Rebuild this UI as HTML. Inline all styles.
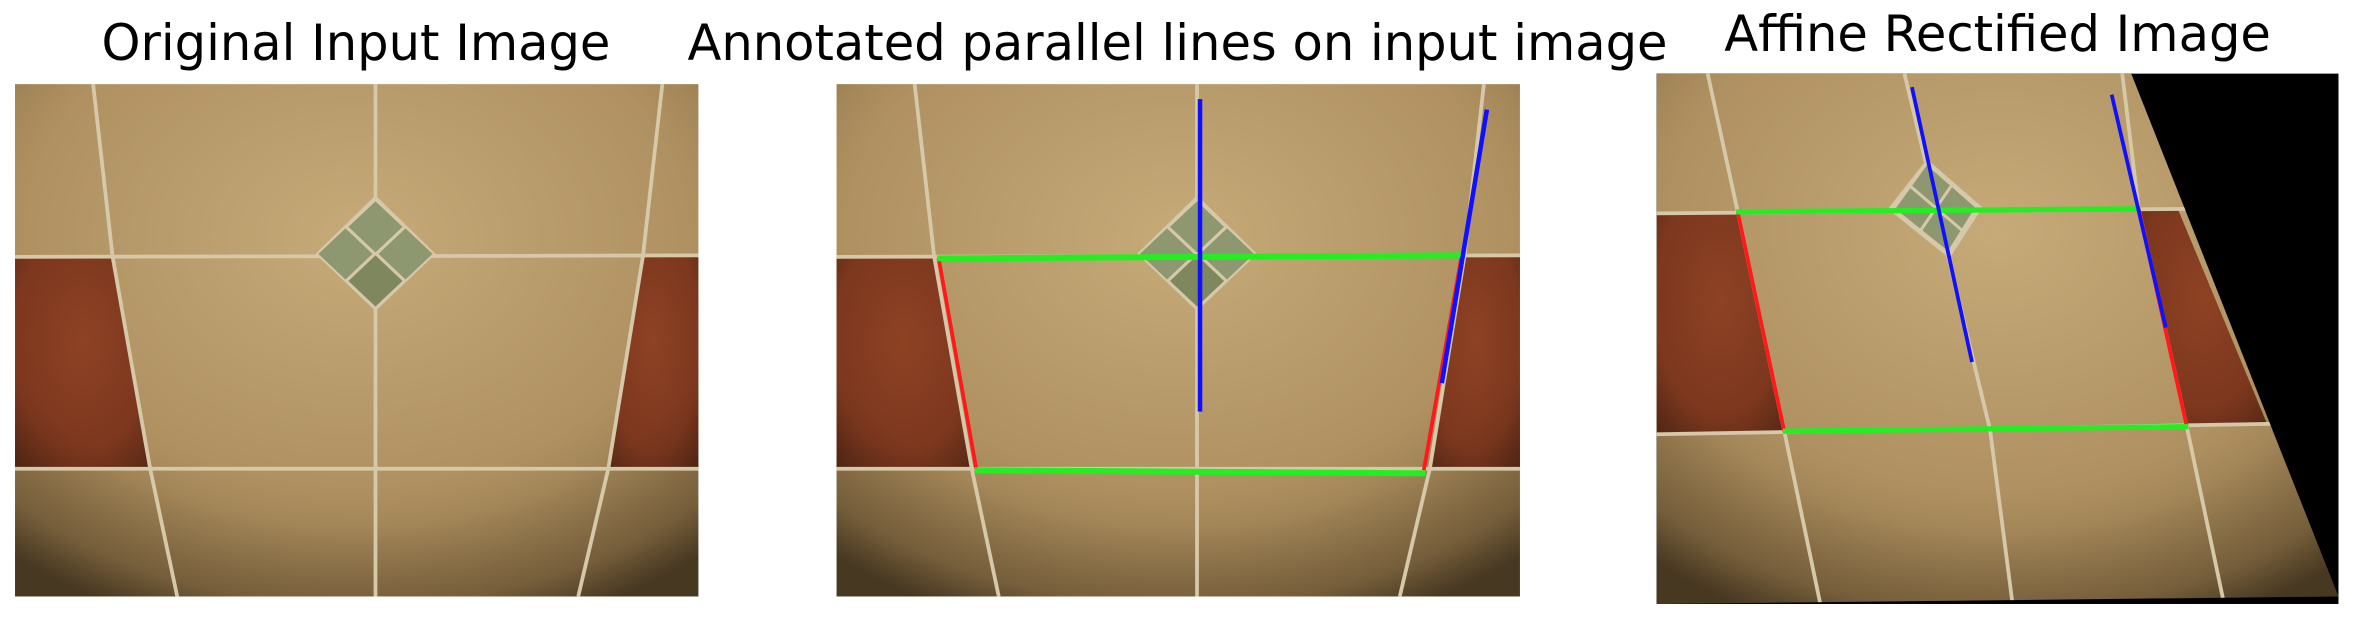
<!DOCTYPE html>
<html><head><meta charset="utf-8"><style>
html,body{margin:0;padding:0;background:#fff;}
svg{display:block;}
text{font-family:"DejaVu Sans","Liberation Sans",sans-serif;font-size:33px;fill:#000;}
</style></head><body>
<svg width="2355" height="619" viewBox="0 0 1568 412" preserveAspectRatio="none">
<defs>
  <radialGradient id="vig" cx="0.5" cy="0.3" r="0.8">
    <stop offset="0" stop-color="#c6aa78"/>
    <stop offset="0.6" stop-color="#b09262"/>
    <stop offset="0.9" stop-color="#8c7046"/>
    <stop offset="1" stop-color="#5e4a2c"/>
  </radialGradient>
  <radialGradient id="vigR" cx="0.5" cy="0.4" r="0.75">
    <stop offset="0" stop-color="#8e4224"/>
    <stop offset="0.7" stop-color="#7c371e"/>
    <stop offset="1" stop-color="#5a2a16"/>
  </radialGradient>
  <radialGradient id="shade" cx="0.5" cy="0.3" r="0.8">
    <stop offset="0.7" stop-color="#000" stop-opacity="0"/>
    <stop offset="1" stop-color="#000" stop-opacity="0.25"/>
  </radialGradient>
  <g id="scene">
    <rect x="0" y="0" width="455" height="341" fill="url(#vig)"/>
    <polygon points="0,115 65,115 90,256 0,256" fill="url(#vigR)"/>
    <polygon points="418,115 455,115 455,256 395,256" fill="url(#vigR)"/>
    <rect x="0" y="0" width="455" height="341" fill="url(#shade)"/>
    <g stroke="#d6c9aa" stroke-width="2.5" fill="none">
      <polyline points="0,115 455,114"/>
      <polyline points="0,256 455,256"/>
      <polyline points="52,0 65,115 90,256 108,341"/>
      <line x1="240" y1="0" x2="240" y2="341"/>
      <polyline points="431,0 418,115 395,256 375,341"/>
    </g>
    <polygon points="240,74 280,113 240,151 200,113" fill="#d6c9aa"/>
    <g fill="#8e9870">
      <polygon points="240,78 258,95 240,112 222,95"/>
      <polygon points="220,96 238,113 220,130 202,113"/>
      <polygon points="260,96 278,113 260,130 242,113"/>
      <polygon points="240,114 258,131 240,148 222,131" fill="#7f875e"/>
    </g>
  </g>
  <clipPath id="c3"><polygon points="1103,49 1419,49 1557,397 1103,402"/></clipPath>
</defs>

<text x="237" y="40" text-anchor="middle">Original Input Image</text>
<text x="784" y="40" text-anchor="middle">Annotated parallel lines on input image</text>
<text x="1330" y="34" text-anchor="middle">Affine Rectified Image</text>

<g transform="translate(10,56)"><use href="#scene"/></g>

<g transform="translate(557,56)"><use href="#scene"/></g>
<g>
  <line x1="625" y1="172" x2="650" y2="312" stroke="#ff1a1a" stroke-width="2.5"/>
  <line x1="973" y1="171" x2="948" y2="313" stroke="#ff1a1a" stroke-width="2.5"/>
  <line x1="624" y1="172" x2="974" y2="170" stroke="#22ee22" stroke-width="4"/>
  <line x1="649" y1="313" x2="949" y2="315" stroke="#22ee22" stroke-width="4"/>
  <line x1="799" y1="66" x2="799" y2="274" stroke="#1010ff" stroke-width="3"/>
  <line x1="990" y1="73" x2="960" y2="255" stroke="#1010ff" stroke-width="3"/>
</g>

<g>
  <rect x="1103" y="49" width="454" height="353" fill="#000"/>
  <g clip-path="url(#c3)">
    <rect x="1103" y="49" width="454" height="353" fill="url(#vig)"/>
    <polygon points="1103,142 1157,141 1188,287 1103,288" fill="url(#vigR)"/>
    <polygon points="1424,139 1450,139 1509,281 1456,284" fill="url(#vigR)"/>
    <rect x="1103" y="49" width="454" height="353" fill="url(#shade)"/>
    <g stroke="#d6c9aa" stroke-width="2.5" fill="none">
      <line x1="1103" y1="142" x2="1460" y2="139"/>
      <line x1="1103" y1="289" x2="1520" y2="282"/>
      <polyline points="1137,49 1157,141 1188,287 1212,402"/>
      <polyline points="1268,49 1290,141 1325,286 1340,402"/>
      <polyline points="1413,49 1424,139 1456,284 1480,398"/>
    </g>
    <polygon points="1283,106 1320,138 1298,172 1257,139" fill="#d6c9aa"/>
    <polygon points="1283,110 1315,138 1297,167 1262,139" fill="#8e9870"/>
    <g stroke="#d6c9aa" stroke-width="2" fill="none">
      <line x1="1272" y1="124" x2="1306" y2="153"/>
      <line x1="1299" y1="124" x2="1279" y2="153"/>
    </g>
  </g>
  <line x1="1157" y1="141" x2="1188" y2="287" stroke="#ff1a1a" stroke-width="2.5"/>
  <line x1="1424" y1="139" x2="1456" y2="284" stroke="#ff1a1a" stroke-width="2.5"/>
  <line x1="1156" y1="141" x2="1425" y2="139" stroke="#22ee22" stroke-width="3.5"/>
  <line x1="1187" y1="287" x2="1457" y2="284" stroke="#22ee22" stroke-width="3.5"/>
  <line x1="1273" y1="58" x2="1313" y2="241" stroke="#1010ff" stroke-width="2.5"/>
  <line x1="1406" y1="63" x2="1442" y2="218" stroke="#1010ff" stroke-width="2.5"/>
</g>
</svg>
</body></html>
